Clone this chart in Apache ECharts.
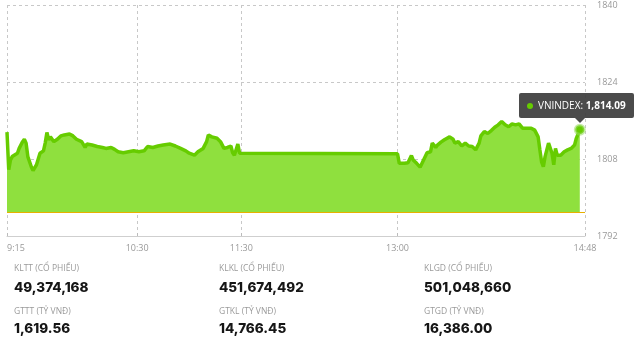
<!DOCTYPE html>
<html>
<head>
<meta charset="utf-8">
<script src="https://cdn.jsdelivr.net/npm/echarts@6/dist/echarts.min.js"></script>
<style>
html,body{margin:0;padding:0;background:#fff;}
#c{width:640px;height:361px;}
</style>
</head>
<body>
<div id="c"></div>
<script>
// ---- data ----
var seriesName = "VNINDEX";
var times = ["9:15","9:16","9:17","9:18","9:19","9:21","9:22","9:24","9:25","9:26","9:27","9:29","9:30","9:32","9:34","9:36","9:37","9:38","9:39","9:40","9:42","9:44","9:46","9:48","9:51","9:53","9:55","9:58","10:00","10:01","10:04","10:07","10:10","10:12","10:15","10:17","10:19","10:22","10:25","10:28","10:31","10:34","10:36","10:39","10:42","10:45","10:49","10:52","10:55","10:58","11:00","11:03","11:05","11:08","11:10","11:11","11:13","11:16","11:18","11:20","11:22","11:24","11:25","11:26","11:28","11:29","11:30",
"13:00","13:01","13:02","13:04","13:06","13:08","13:09","13:11","13:13","13:15","13:17","13:19","13:20","13:22","13:23","13:25","13:27","13:30","13:32","13:33","13:35","13:37","13:39","13:41","13:43","13:45","13:47","13:48","13:50","13:52","13:54","13:56","13:58","14:00","14:02","14:04","14:06","14:08","14:10","14:12","14:13","14:15","14:17","14:19","14:21","14:22","14:23","14:24","14:25","14:27","14:28","14:29","14:30","14:31","14:32","14:34","14:36","14:38","14:40","14:42","14:43","14:45"];
var values = [1813.6,1805.8,1807.8,1808.5,1808.8,1809.2,1810.2,1811.6,1812.1,1811.3,1808.5,1806.4,1805.6,1806.8,1809.2,1809.7,1811.3,1813.5,1812.0,1812.6,1811.6,1812.1,1812.8,1813.0,1813.2,1812.8,1812.1,1811.6,1810.4,1811.1,1810.9,1810.6,1810.4,1810.2,1810.4,1810.0,1809.5,1809.3,1809.5,1809.7,1809.5,1809.7,1810.6,1810.4,1810.7,1810.9,1811.1,1810.7,1810.2,1809.7,1809.2,1808.8,1809.5,1810.2,1811.6,1813.0,1812.6,1812.3,1811.6,1810.2,1810.4,1810.7,1809.3,1808.8,1811.1,1809.2,1809.1,
1809.1,1807.1,1806.8,1807.1,1807.2,1808.7,1807.8,1807.1,1806.3,1807.8,1809.3,1809.5,1811.3,1810.4,1810.9,1811.5,1812.0,1812.6,1812.1,1811.3,1811.6,1810.7,1811.3,1810.7,1810.6,1809.9,1811.3,1812.8,1813.7,1813.3,1813.9,1814.6,1815.1,1815.8,1815.1,1814.7,1815.3,1815.1,1815.3,1814.4,1814.7,1814.4,1814.4,1814.0,1812.6,1809.9,1807.4,1806.4,1808.5,1811.3,1811.6,1809.2,1806.8,1810.2,1808.8,1808.8,1809.5,1809.9,1810.2,1810.9,1812.3,1814.09];
var referenceValue = 1796.9;
var xStart = "9:15", xEnd = "14:48";
var xTickLabels = ["9:15","10:30","11:30","13:00","14:48"];
var yMin = 1792, yMax = 1840, yStep = 16;
var statLabels = [["KLTT (CỔ PHIẾU)","KLKL (CỔ PHIẾU)","KLGD (CỔ PHIẾU)"],["GTTT (TỶ VNĐ)","GTKL (TỶ VNĐ)","GTGD (TỶ VNĐ)"]];
var statValues = [["49,374,168","451,674,492","501,048,660"],["1,619.56","14,766.45","16,386.00"]];

// ---- helpers ----
function toMin(s){var p=s.split(":");return (+p[0])*60+(+p[1]);}
var t0 = toMin(xStart);
function fmtMin(m){var t=m+t0;var h=Math.floor(t/60);var mm=t%60;return h+":"+(mm<10?"0":"")+mm;}
var tickVals = xTickLabels.map(function(s){return toMin(s)-t0;});
var lastIdx = values.length-1;
var seriesData = times.map(function(t,i){
  var d = {value:[toMin(t)-t0, values[i]]};
  if(i===lastIdx){
    d.symbol='circle'; d.symbolSize=9;
    d.itemStyle={color:'#66cc00',borderColor:'rgba(150,220,90,0.55)',borderWidth:3};
  }
  return d;
});

var colX = [14,219,424];
var rowY = [[269,288],[312,329]];
var graphics = [];
for(var r=0;r<2;r++){for(var c=0;c<3;c++){
  graphics.push({type:'text',x:colX[c],y:rowY[r][0],style:{text:statLabels[r][c],fill:'#9a9a9a',font:'8.5px "Open Sans", sans-serif',textVerticalAlign:'middle'}});
  graphics.push({type:'text',x:colX[c],y:rowY[r][1],style:{text:statValues[r][c],fill:'#161616',font:'800 13.5px Inter, sans-serif',textVerticalAlign:'middle'}});
}}

var chart = echarts.init(document.getElementById('c'), null, {renderer:'canvas'});
chart.setOption({
  animation:false,
  grid:{left:7,right:55,top:5,bottom:125,containLabel:false},
  tooltip:{
    trigger:'item', triggerOn:'none', alwaysShowContent:true,
    backgroundColor:'rgba(60,60,60,0.92)', borderWidth:0, padding:[5,8],
    extraCssText:'border-radius:2px;box-shadow:none;overflow:visible;',
    textStyle:{color:'#fff',fontSize:10,fontFamily:'"Open Sans", sans-serif'},
    position:function(point,params,dom,rect,size){return [point[0]-61, point[1]-size.contentSize[1]-12];},
    formatter:function(p){
      var v = p.value[1].toLocaleString('en-US',{minimumFractionDigits:2,maximumFractionDigits:2});
      return '<span style="display:inline-block;width:6px;height:6px;border-radius:3px;background:#66cc00;margin-right:5px;vertical-align:middle"></span>'+
        seriesName+': <b>'+v+'</b>'+
        '<div style="position:absolute;left:56px;top:100%;width:0;height:0;border-left:5px solid transparent;border-right:5px solid transparent;border-top:5px solid rgba(60,60,60,0.92)"></div>';
    }
  },
  xAxis:{
    type:'value', min:0, max:toMin(xEnd)-t0,
    axisLine:{show:true,lineStyle:{color:'#cfcfcf',width:1}},
    axisTick:{show:true,inside:true,length:3,customValues:tickVals,lineStyle:{color:'#bbb'}},
    axisLabel:{customValues:tickVals,formatter:function(v){return fmtMin(v);},color:'#999',fontSize:9,margin:8,alignMinLabel:'left',fontFamily:'"Open Sans", sans-serif'},
    splitLine:{show:true,customValues:tickVals,lineStyle:{color:'#c8c8c8',type:[3,3],width:1}}
  },
  yAxis:{
    type:'value', position:'right', min:yMin, max:yMax, interval:yStep,
    axisLine:{show:false}, axisTick:{show:false},
    axisLabel:{color:'#999',fontSize:9,margin:12,fontFamily:'"Open Sans", sans-serif',formatter:function(v){return String(v);}},
    splitLine:{show:true,lineStyle:{color:'#c8c8c8',type:[3,3],width:1}}
  },
  series:[{
    name:seriesName, type:'line', data:seriesData, symbol:'none', showSymbol:true,
    lineStyle:{color:'#66cc00',width:3.5}, itemStyle:{color:'#66cc00'},
    areaStyle:{color:'#8fe03e',opacity:1,origin:referenceValue},
    emphasis:{disabled:true},
    markLine:{silent:true,symbol:'none',label:{show:false},lineStyle:{color:'#e8b000',type:'solid',width:1},data:[{yAxis:referenceValue}]}
  }],
  graphic:graphics
});
chart.dispatchAction({type:'showTip',seriesIndex:0,dataIndex:lastIdx});
</script>
</body>
</html>
